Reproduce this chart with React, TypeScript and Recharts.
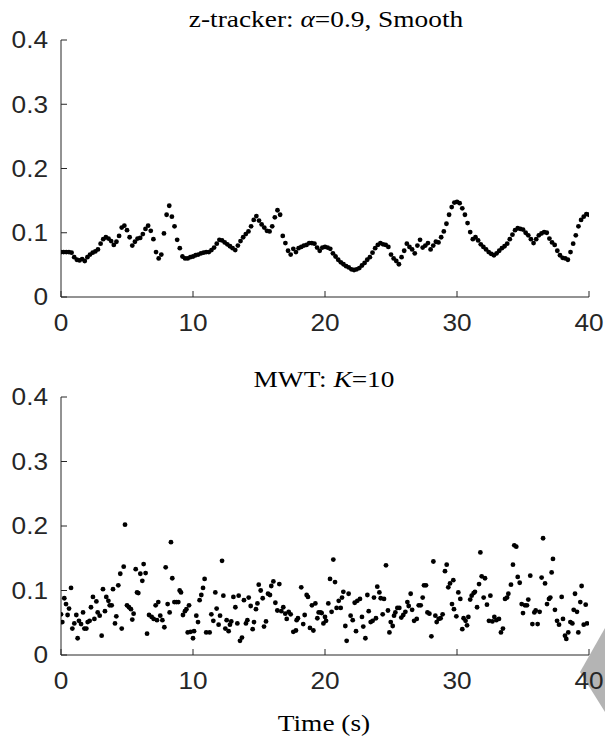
import { ScatterChart, Scatter, XAxis, YAxis } from "recharts";

const X_TICKS = [0, 10, 20, 30, 40];
const Y_TICKS = [0, 0.1, 0.2, 0.3, 0.4];

// z-tracker smoothed estimate, one value every 0.2 s from t = 0
const ZT_STEP = 0.2;
const ZT_VALUES = [
  0.070, 0.070, 0.070, 0.070, 0.069, 0.062, 0.058, 0.057, 0.059, 0.056,
  0.062, 0.066, 0.069, 0.071, 0.074, 0.083, 0.090, 0.093, 0.091, 0.087,
  0.081, 0.086, 0.095, 0.108, 0.111, 0.104, 0.093, 0.080, 0.086, 0.091,
  0.092, 0.098, 0.106, 0.111, 0.103, 0.090, 0.070, 0.060, 0.066, 0.099,
  0.128, 0.142, 0.125, 0.110, 0.089, 0.076, 0.063, 0.060, 0.060, 0.062,
  0.063, 0.065, 0.066, 0.068, 0.069, 0.070, 0.070, 0.073, 0.077, 0.083,
  0.089, 0.088, 0.085, 0.082, 0.079, 0.076, 0.073, 0.080, 0.087, 0.093,
  0.098, 0.102, 0.110, 0.120, 0.126, 0.119, 0.113, 0.108, 0.103, 0.102,
  0.110, 0.124, 0.135, 0.128, 0.095, 0.084, 0.072, 0.066, 0.075, 0.070,
  0.076, 0.078, 0.080, 0.081, 0.084, 0.084, 0.083, 0.077, 0.072, 0.077,
  0.078, 0.077, 0.075, 0.068, 0.063, 0.058, 0.054, 0.051, 0.048, 0.046,
  0.043, 0.042, 0.043, 0.045, 0.049, 0.053, 0.058, 0.062, 0.069, 0.076,
  0.081, 0.084, 0.082, 0.081, 0.078, 0.066, 0.060, 0.056, 0.051, 0.062,
  0.072, 0.083, 0.078, 0.074, 0.068, 0.080, 0.089, 0.077, 0.080, 0.084,
  0.074, 0.080, 0.086, 0.085, 0.093, 0.102, 0.114, 0.128, 0.140, 0.147,
  0.148, 0.146, 0.138, 0.128, 0.115, 0.101, 0.090, 0.093, 0.088, 0.082,
  0.078, 0.074, 0.070, 0.067, 0.065, 0.068, 0.072, 0.076, 0.079, 0.083,
  0.090, 0.097, 0.104, 0.107, 0.106, 0.105, 0.100, 0.096, 0.090, 0.084,
  0.090, 0.096, 0.099, 0.101, 0.100, 0.091, 0.085, 0.081, 0.072, 0.065,
  0.061, 0.060, 0.058, 0.070, 0.083, 0.096, 0.110, 0.120, 0.125, 0.129,
  0.128,
];

// MWT estimate, [time (s), value]
const MWT_POINTS: [number, number][] = [
  [0.0, 0.063], [0.1, 0.051], [0.25, 0.088], [0.38, 0.079], [0.5, 0.062], [0.61, 0.072],
  [0.76, 0.104], [0.86, 0.041], [1.01, 0.049], [1.16, 0.062], [1.26, 0.026], [1.36, 0.053],
  [1.52, 0.048], [1.67, 0.066], [1.77, 0.041], [1.92, 0.041], [2.02, 0.051], [2.17, 0.053],
  [2.27, 0.074], [2.42, 0.09], [2.53, 0.056], [2.68, 0.083], [2.78, 0.066], [2.93, 0.061],
  [3.08, 0.030], [3.18, 0.102], [3.33, 0.068], [3.43, 0.09], [3.59, 0.084], [3.69, 0.077],
  [3.84, 0.077], [3.94, 0.102], [4.09, 0.049], [4.19, 0.060], [4.34, 0.108], [4.49, 0.126],
  [4.6, 0.041], [4.75, 0.137], [4.85, 0.202], [5.0, 0.077], [5.15, 0.074], [5.3, 0.071],
  [5.4, 0.055], [5.5, 0.064], [5.66, 0.133], [5.76, 0.097], [5.86, 0.096], [6.01, 0.126],
  [6.16, 0.115], [6.26, 0.141], [6.41, 0.127], [6.52, 0.033], [6.67, 0.062], [6.87, 0.059],
  [7.02, 0.056], [7.17, 0.077], [7.27, 0.054], [7.37, 0.082], [7.52, 0.061], [7.68, 0.054],
  [7.83, 0.043], [7.93, 0.136], [8.08, 0.079], [8.23, 0.066], [8.33, 0.175], [8.43, 0.119],
  [8.59, 0.082], [8.74, 0.082], [8.89, 0.082], [8.99, 0.100], [9.09, 0.097], [9.24, 0.062],
  [9.39, 0.068], [9.5, 0.071], [9.6, 0.035], [9.7, 0.077],
  [9.82, 0.036], [10.0, 0.026], [10.08, 0.037], [10.25, 0.061], [10.38, 0.051], [10.5, 0.085],
  [10.63, 0.093], [10.76, 0.104], [10.88, 0.118], [11.0, 0.035], [11.26, 0.035], [11.39, 0.063],
  [11.54, 0.053], [11.69, 0.097], [11.79, 0.072], [11.94, 0.047], [12.05, 0.061], [12.2, 0.146],
  [12.3, 0.092], [12.45, 0.041], [12.55, 0.054], [12.7, 0.037], [12.8, 0.047], [12.9, 0.052],
  [13.06, 0.09], [13.21, 0.074], [13.36, 0.049], [13.46, 0.092], [13.56, 0.022], [13.71, 0.027],
  [13.86, 0.085], [14.01, 0.049], [14.12, 0.054], [14.22, 0.089], [14.37, 0.076], [14.52, 0.040],
  [14.62, 0.051], [14.77, 0.071], [14.88, 0.080], [14.98, 0.109], [15.13, 0.100], [15.28, 0.088],
  [15.38, 0.044], [15.53, 0.052], [15.68, 0.095], [15.83, 0.093], [15.93, 0.107], [16.09, 0.114],
  [16.24, 0.081], [16.39, 0.069], [16.54, 0.110], [16.69, 0.068], [16.84, 0.074], [16.99, 0.064],
  [17.1, 0.056], [17.25, 0.067], [17.4, 0.063], [17.6, 0.036], [17.8, 0.038], [17.85, 0.054],
  [17.95, 0.057], [18.2, 0.105], [18.35, 0.048], [18.46, 0.062], [18.61, 0.093], [18.71, 0.090],
  [18.86, 0.042], [19.01, 0.077], [19.12, 0.038], [19.27, 0.080], [19.42, 0.057], [19.52, 0.066],
  [19.67, 0.066],
  [19.75, 0.065], [19.88, 0.049], [20.0, 0.059], [20.08, 0.053], [20.25, 0.080], [20.38, 0.118],
  [20.5, 0.067], [20.63, 0.148], [20.76, 0.113], [20.88, 0.073], [21.04, 0.084], [21.19, 0.073],
  [21.29, 0.089], [21.39, 0.098], [21.54, 0.045], [21.64, 0.022], [21.79, 0.095], [21.94, 0.061],
  [22.1, 0.054], [22.25, 0.081], [22.35, 0.037], [22.45, 0.084], [22.65, 0.087], [22.8, 0.059],
  [22.9, 0.044], [23.06, 0.026], [23.21, 0.093], [23.31, 0.068], [23.46, 0.051], [23.61, 0.053],
  [23.71, 0.089], [23.86, 0.057], [23.96, 0.106], [24.12, 0.097], [24.22, 0.088], [24.37, 0.063],
  [24.47, 0.087], [24.62, 0.139], [24.77, 0.069], [24.88, 0.035], [24.98, 0.051], [25.13, 0.045],
  [25.23, 0.061], [25.33, 0.066], [25.48, 0.073], [25.63, 0.073], [25.78, 0.058], [25.93, 0.062],
  [26.09, 0.067], [26.24, 0.082], [26.34, 0.076], [26.49, 0.095], [26.6, 0.070], [26.75, 0.053],
  [26.95, 0.056], [27.1, 0.077], [27.25, 0.077], [27.4, 0.089], [27.5, 0.108], [27.65, 0.108],
  [27.76, 0.066], [27.91, 0.064], [28.06, 0.029], [28.21, 0.145], [28.36, 0.061], [28.46, 0.051],
  [28.61, 0.056], [28.76, 0.057], [28.91, 0.063], [29.09, 0.130], [29.22, 0.140], [29.34, 0.105],
  [29.47, 0.111], [29.62, 0.079], [29.72, 0.116], [29.77, 0.071],
  [29.95, 0.060], [30.1, 0.097], [30.25, 0.087], [30.4, 0.040], [30.5, 0.057], [30.65, 0.053],
  [30.76, 0.046], [30.86, 0.059], [31.0, 0.086], [31.11, 0.092], [31.26, 0.096], [31.36, 0.098],
  [31.52, 0.074], [31.67, 0.110], [31.77, 0.159], [31.87, 0.122], [32.02, 0.089], [32.12, 0.119],
  [32.27, 0.078], [32.42, 0.053], [32.53, 0.092], [32.68, 0.052], [32.83, 0.059], [32.98, 0.054],
  [33.18, 0.056], [33.33, 0.035], [33.48, 0.041], [33.64, 0.087], [33.79, 0.089], [33.89, 0.095],
  [34.09, 0.109], [34.24, 0.140], [34.34, 0.170], [34.49, 0.168], [34.6, 0.121], [34.75, 0.112],
  [34.9, 0.079], [35.0, 0.065], [35.15, 0.077], [35.3, 0.077], [35.4, 0.086], [35.55, 0.123],
  [35.71, 0.048], [35.86, 0.066], [35.96, 0.069], [36.11, 0.048], [36.26, 0.067], [36.41, 0.120],
  [36.52, 0.181], [36.67, 0.111], [36.82, 0.079], [36.97, 0.087], [37.07, 0.089], [37.17, 0.128],
  [37.27, 0.149], [37.42, 0.070], [37.58, 0.053], [37.73, 0.047], [37.93, 0.090], [38.03, 0.056],
  [38.18, 0.030], [38.28, 0.025], [38.43, 0.035], [38.59, 0.051], [38.74, 0.049], [38.84, 0.070],
  [38.94, 0.095], [39.09, 0.067], [39.19, 0.035], [39.34, 0.082], [39.44, 0.107], [39.6, 0.047],
  [39.75, 0.078], [39.85, 0.049],
];

const ztData = ZT_VALUES.map((v, i) => ({ t: Number((i * ZT_STEP).toFixed(1)), v }));
const mwtData = MWT_POINTS.map(([t, v]) => ({ t, v }));

const AXIS_COLOR = "#262626";
const SANS = "'Liberation Sans', Arial, Helvetica, sans-serif";
const SERIF = "'Liberation Serif', 'Times New Roman', serif";
// the reference glyphs are a bit wider than Arial/Times, so stretch text horizontally
const STRETCH = 1.14;

const stretchAt = (x: number, y: number) => `translate(${x},${y}) scale(${STRETCH},1)`;

const XTick = (p: any) => (
  <text
    transform={stretchAt(p.x, p.y)}
    textAnchor="middle"
    dy="0.71em"
    fill={AXIS_COLOR}
    fontSize={23}
    fontFamily={SANS}
  >
    {p.payload.value}
  </text>
);

const YTick = (p: any) => (
  <text
    transform={stretchAt(p.x, p.y)}
    textAnchor="end"
    dy="0.36em"
    fill={AXIS_COLOR}
    fontSize={23}
    fontFamily={SANS}
  >
    {p.payload.value}
  </text>
);

const Dot = (props: any) => <circle cx={props.cx} cy={props.cy} r={2.4} fill="#000" />;

function Panel({ data, height }: { data: { t: number; v: number }[]; height: number }) {
  return (
    <ScatterChart width={605} height={height} margin={{ top: 40, right: 16, bottom: 0, left: 0 }}>
      <XAxis
        type="number"
        dataKey="t"
        domain={[0, 40]}
        ticks={X_TICKS}
        height={53}
        tickSize={-6}
        tickMargin={24}
        tick={XTick}
        axisLine={{ stroke: AXIS_COLOR }}
        tickLine={{ stroke: AXIS_COLOR }}
        allowDataOverflow
      />
      <YAxis
        type="number"
        dataKey="v"
        domain={[0, 0.4]}
        ticks={Y_TICKS}
        width={61}
        tickSize={-6}
        tickMargin={19}
        tick={YTick}
        axisLine={{ stroke: AXIS_COLOR }}
        tickLine={{ stroke: AXIS_COLOR }}
        allowDataOverflow
      />
      <Scatter data={data} fill="#000" shape={Dot} isAnimationActive={false} />
    </ScatterChart>
  );
}

export default function App() {
  return (
    <div style={{ position: "absolute", left: 0, top: 0, width: 605, height: 738, background: "#fff", overflow: "hidden" }}>
      <svg width={605} height={738} style={{ position: "absolute", left: 0, top: 0 }}>
        <polygon points="580,672 605,628 605,712" fill="#b4b4b4" />
      </svg>
      <div style={{ position: "absolute", left: 0, top: 0 }}>
        <Panel data={ztData} height={350} />
      </div>
      <div style={{ position: "absolute", left: 0, top: 357 }}>
        <Panel data={mwtData} height={351} />
      </div>
      <svg width={605} height={738} style={{ position: "absolute", left: 0, top: 0, pointerEvents: "none" }}>
        <g fontFamily={SERIF} fontSize={24} fill="#000" textAnchor="middle">
          <text transform={stretchAt(326, 27)}>
            z-tracker: <tspan fontStyle="italic">α</tspan>=0.9, Smooth
          </text>
          <text transform={stretchAt(324, 387)}>
            MWT: <tspan fontStyle="italic">K</tspan>=10
          </text>
          <text transform={stretchAt(324, 731)}>Time (s)</text>
        </g>
      </svg>
    </div>
  );
}
